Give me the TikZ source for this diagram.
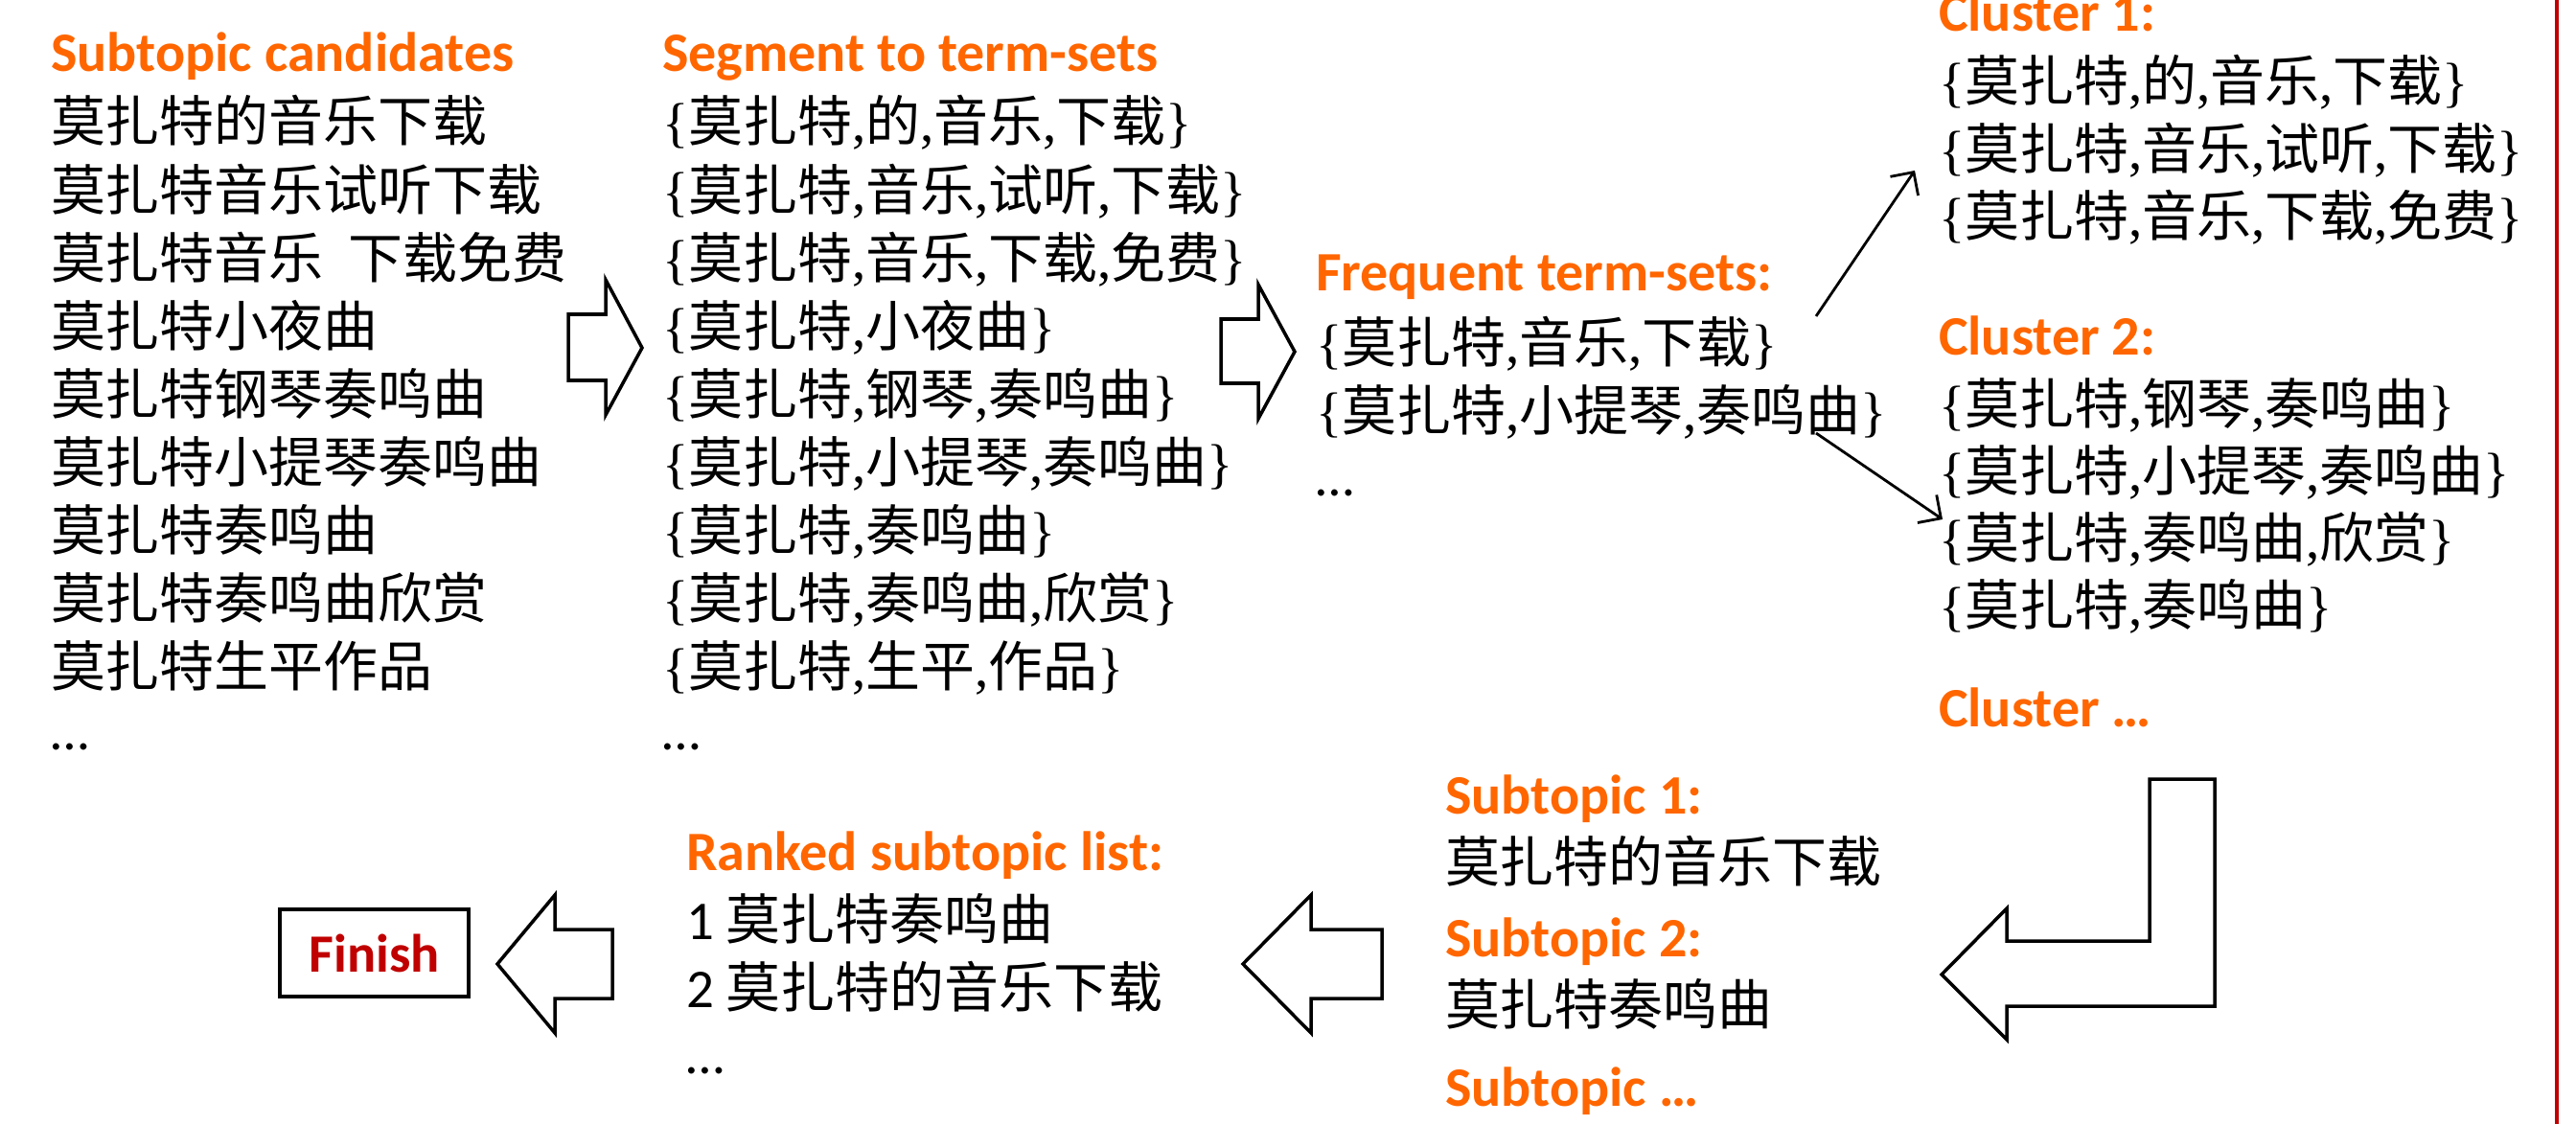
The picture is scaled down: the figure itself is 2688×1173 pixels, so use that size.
\documentclass[tikz,border=0pt]{standalone}
\usepackage{fontspec}
\setmainfont{Carlito}
\newfontfamily\cjk{Noto Sans CJK SC}
\newfontfamily\srf{Liberation Serif}
\usetikzlibrary{arrows.meta}
\definecolor{hdorange}{HTML}{FF6600}
\definecolor{finred}{HTML}{C00000}
\newcommand\ts[1]{{\srf\{}\foreach \w [count=\k] in {#1}{\ifnum\k>1 {\srf,}\fi\w}{\srf\}}}
\tikzset{
  txt/.style={inner sep=0pt, outer sep=0pt, anchor=base west, font=\fontsize{16.2pt}{19pt}\selectfont},
  hd/.style={txt, text=hdorange, font=\fontsize{16.5pt}{19pt}\selectfont\bfseries},
  zh/.style={txt, font=\fontsize{16.2pt}{19pt}\selectfont\cjk},
  blockarrow/.style={draw=black, line width=1pt, fill=white, line join=miter},
  pointer/.style={draw=black, line width=0.8pt, -{Straight Barb[length=5pt,width=10pt]}},
  finbox/.style={draw=black, line width=1pt, inner sep=0pt, minimum width=1.97cm, minimum height=0.91cm,
    text=finred, font=\fontsize{16pt}{19pt}\selectfont\bfseries},
}
\begin{document}
\begin{tikzpicture}[x=0.01cm,y=-0.01cm]
\useasboundingbox (0,0) rectangle (2688,1173);

% column 1: subtopic candidates
\node[hd] (h1) at (53,75) {Subtopic candidates};
\foreach \t [count=\i] in {莫扎特的音乐下载,莫扎特音乐试听下载,{莫扎特音乐\hspace{0.45em}下载免费},莫扎特小夜曲,莫扎特钢琴奏鸣曲,莫扎特小提琴奏鸣曲,莫扎特奏鸣曲,莫扎特奏鸣曲欣赏,莫扎特生平作品}
  \node[zh] (a\i) at (53,{148+71*(\i-1)}) {\t};
\node[txt] (a10) at (53,782) {…};

% column 2: segment to term-sets
\node[hd] (h2) at (691,75) {Segment to term-sets};
\foreach \t [count=\i] in {{\ts{莫扎特,的,音乐,下载}},{\ts{莫扎特,音乐,试听,下载}},{\ts{莫扎特,音乐,下载,免费}},{\ts{莫扎特,小夜曲}},{\ts{莫扎特,钢琴,奏鸣曲}},{\ts{莫扎特,小提琴,奏鸣曲}},{\ts{莫扎特,奏鸣曲}},{\ts{莫扎特,奏鸣曲,欣赏}},{\ts{莫扎特,生平,作品}}}
  \node[zh] (b\i) at (691,{148+71*(\i-1)}) {\t};
\node[txt] (b10) at (691,782) {…};

% column 3: frequent term-sets
\node[hd] (h3) at (1373,304) {Frequent term-sets:};
\node[zh] (c1) at (1373,378) {\ts{莫扎特,音乐,下载}};
\node[zh] (c2) at (1373,449) {\ts{莫扎特,小提琴,奏鸣曲}};
\node[txt] (c3) at (1373,517) {…};

% clusters
\node[hd] (k1h) at (2023,33) {Cluster 1:};
\node[zh] (k11) at (2023,106) {\ts{莫扎特,的,音乐,下载}};
\node[zh] (k12) at (2023,177) {\ts{莫扎特,音乐,试听,下载}};
\node[zh] (k13) at (2023,247) {\ts{莫扎特,音乐,下载,免费}};
\node[hd] (k2h) at (2023,370) {Cluster 2:};
\node[zh] (k21) at (2023,442) {\ts{莫扎特,钢琴,奏鸣曲}};
\node[zh] (k22) at (2023,512) {\ts{莫扎特,小提琴,奏鸣曲}};
\node[zh] (k23) at (2023,582) {\ts{莫扎特,奏鸣曲,欣赏}};
\node[zh] (k24) at (2023,652) {\ts{莫扎特,奏鸣曲}};
\node[hd] (k3h) at (2023,758) {Cluster …};

% subtopics
\node[hd] (s1h) at (1508,849) {Subtopic 1:};
\node[zh] (s1) at (1508,920) {莫扎特的音乐下载};
\node[hd] (s2h) at (1508,998) {Subtopic 2:};
\node[zh] (s2) at (1508,1069) {莫扎特奏鸣曲};
\node[hd] (s3h) at (1508,1154) {Subtopic …};

% ranked list
\node[hd] (rh) at (716,908) {Ranked subtopic list:};
\node[txt] (r1) at (716,980) {1 {\cjk 莫扎特奏鸣曲}};
\node[txt] (r2) at (716,1051) {2 {\cjk 莫扎特的音乐下载}};
\node[txt] (r3) at (716,1120) {…};

% finish
\node[finbox] (fin) at (390.5,994.5) {Finish};

% block arrows
\draw[blockarrow] (593,328) -- (632,328) -- (632,292) -- (670,363) -- (632,433) -- (632,397) -- (593,397) -- cycle;
\draw[blockarrow] (1274,333) -- (1313,333) -- (1313,297) -- (1351,367) -- (1313,437) -- (1313,400) -- (1274,400) -- cycle;
\draw[blockarrow] (639,970) -- (579,970) -- (579,934) -- (519,1006) -- (579,1078) -- (579,1042) -- (639,1042) -- cycle;
\draw[blockarrow] (1442,970) -- (1368,970) -- (1368,934) -- (1297,1006) -- (1368,1078) -- (1368,1042) -- (1442,1042) -- cycle;
\draw[blockarrow] (2243,813) -- (2311,813) -- (2311,1050) -- (2094,1050) -- (2094,1085) -- (2026,1017) -- (2094,948) -- (2094,982) -- (2243,982) -- cycle;

% thin arrows from frequent term-sets to clusters
\coordinate (fs1) at (1895,330);
\coordinate (ce1) at (1998,178);
\coordinate (fs2) at (1895,452);
\coordinate (ce2) at (2027,542);
\draw[pointer] (fs1) -- (ce1);
\draw[pointer] (fs2) -- (ce2);

% red border line
\draw[finred, line width=1.2pt] (2668,0) -- (2668,1173);
\end{tikzpicture}
\end{document}
